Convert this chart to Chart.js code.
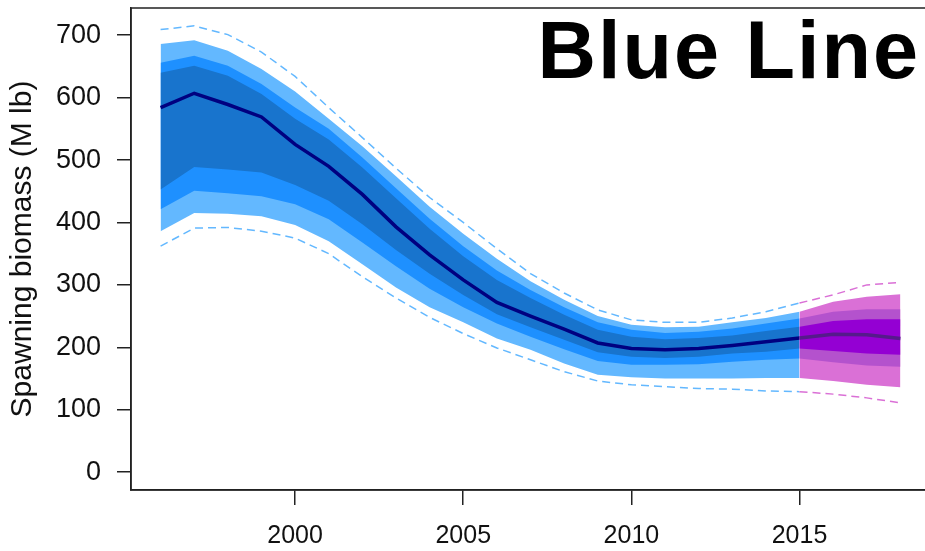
<!DOCTYPE html>
<html>
<head>
<meta charset="utf-8">
<script src="https://cdn.jsdelivr.net/npm/chart.js@4.4.1/dist/chart.umd.min.js"></script>
<style>
  html, body { margin: 0; padding: 0; background: #fff; overflow: hidden; }
  #wrap { width: 925px; height: 551px; overflow: hidden; }
</style>
</head>
<body>
<div id="wrap"><canvas id="chart" width="935" height="551"></canvas></div>
<script>
// model years and projection years
const years = [1996, 1997, 1998, 1999, 2000, 2001, 2002, 2003, 2004, 2005,
               2006, 2007, 2008, 2009, 2010, 2011, 2012, 2013, 2014, 2015]
const projYears = [2015, 2016, 2017, 2018]

// spawning biomass (M lb), median and credible bands
const median     = [584, 607, 589, 569, 525, 490, 445, 393, 348, 308, 272, 250, 229, 207, 198, 196, 198, 203, 209, 215]
const darkUpper  = [640, 651, 635, 606, 566, 533, 488, 439, 390, 346, 308, 279, 252, 228, 217, 213, 215, 219, 226, 233]
const midUpper   = [656, 667, 651, 622, 584, 550, 504, 455, 406, 362, 323, 292, 264, 240, 228, 223, 225, 230, 238, 246]
const lightUpper = [686, 692, 675, 646, 610, 566, 522, 474, 425, 382, 342, 306, 276, 250, 236, 232, 233, 240, 247, 257]
const dashUpper  = [709, 715, 701, 673, 634, 584, 536, 487, 440, 400, 358, 318, 287, 260, 244, 240, 240, 247, 257, 271]
const darkLower  = [453, 489, 485, 480, 460, 435, 397, 356, 318, 284, 253, 232, 212, 192, 185, 183, 185, 190, 193, 198]
const midLower   = [421, 451, 447, 442, 429, 405, 368, 330, 294, 264, 238, 217, 197, 178, 172, 172, 173, 177, 180, 182]
const lightLower = [386, 415, 414, 410, 396, 370, 333, 296, 264, 240, 214, 196, 174, 156, 152, 150, 150, 150, 151, 151]
const dashLower  = [362, 391, 392, 386, 375, 350, 313, 279, 248, 222, 199, 180, 161, 146, 140, 137, 134, 133, 130, 129]

// projection
const pMedian     = [215, 221, 220, 214]
const pDarkUpper  = [233, 242, 245, 245]
const pMidUpper   = [246, 257, 261, 261]
const pLightUpper = [257, 273, 281, 285]
const pDashUpper  = [271, 284, 300, 304]
const pDarkLower  = [198, 194, 190, 188]
const pMidLower   = [182, 176, 171, 169]
const pLightLower = [151, 146, 140, 136]
const pDashLower  = [129, 125, 119, 111]

const yTicks = [0, 100, 200, 300, 400, 500, 600, 700]
const xTicks = [2000, 2005, 2010, 2015]

const pts = (xs, ys) => xs.map((x, i) => ({ x: x, y: ys[i] }))

const band = (xs, up, lo, color, order) => [
  { data: pts(xs, up), backgroundColor: color, borderWidth: 0, pointRadius: 0, fill: "+1", order: order },
  { data: pts(xs, lo), borderWidth: 0, pointRadius: 0, fill: false, order: order }
]
const line = (xs, ys, color, width, dash, order) => ({
  data: pts(xs, ys), borderColor: color, borderWidth: width, borderDash: dash,
  pointRadius: 0, fill: false, order: order
})

const datasets = [
  ...band(years, lightUpper, lightLower, "#63b8ff", 20),
  ...band(years, midUpper, midLower, "#1e90ff", 19),
  ...band(years, darkUpper, darkLower, "#1874cd", 18),
  line(years, dashUpper, "#63b8ff", 1.5, [8, 5], 17),
  line(years, dashLower, "#63b8ff", 1.5, [8, 5], 17),
  line(years, median, "#000080", 3.5, [], 16),
  ...band(projYears, pLightUpper, pLightLower, "#da70d6", 15),
  ...band(projYears, pMidUpper, pMidLower, "#b452cd", 14),
  ...band(projYears, pDarkUpper, pDarkLower, "#9400d3", 13),
  line(projYears, pDashUpper, "#da70d6", 1.5, [8, 5], 12),
  line(projYears, pDashLower, "#da70d6", 1.5, [8, 5], 12),
  line(projYears, pMedian, "#551a8b", 3.5, [], 11)
]

const font = "'Liberation Sans', Arial, sans-serif"

// plot frame and the overlaid label
const frame = {
  id: "frame",
  afterDraw(chart) {
    const { ctx, chartArea: a } = chart
    ctx.save()
    ctx.strokeStyle = "#222"
    ctx.lineWidth = 1.5
    ctx.strokeRect(a.left, a.top, a.right - a.left, a.bottom - a.top)
    ctx.fillStyle = "#000"
    ctx.font = "bold 81px " + font
    ctx.letterSpacing = "2px"
    ctx.textAlign = "right"
    ctx.textBaseline = "alphabetic"
    ctx.fillText("Blue Line", 920, 78)
    ctx.restore()
  }
}

new Chart(document.getElementById("chart"), {
  type: "line",
  data: { datasets: datasets },
  plugins: [frame],
  options: {
    responsive: false,
    animation: false,
    layout: { padding: { top: 8, right: 5, left: 0, bottom: 0 } },
    plugins: { legend: { display: false }, tooltip: { enabled: false } },
    elements: { line: { tension: 0 } },
    scales: {
      x: {
        type: "linear",
        min: 1995.12,
        max: 2018.88,
        afterBuildTicks: axis => { axis.ticks = xTicks.map(v => ({ value: v })) },
        afterFit: axis => { axis.height = 61; axis.paddingLeft = 0; axis.paddingRight = 0 },
        grid: { drawOnChartArea: false, drawTicks: true, tickLength: 15, color: "#222", lineWidth: 1.5 },
        border: { display: true, color: "#222", width: 1.5 },
        ticks: {
          color: "#111", padding: 16, maxRotation: 0,
          font: { family: font, size: 25 },
          callback: v => String(v)
        }
      },
      y: {
        min: -28.6,
        max: 743.6,
        afterBuildTicks: axis => { axis.ticks = yTicks.map(v => ({ value: v })) },
        afterFit: axis => { axis.width = 131; axis.paddingTop = 0; axis.paddingBottom = 0 },
        grid: { drawOnChartArea: false, drawTicks: true, tickLength: 14, color: "#222", lineWidth: 1.5 },
        border: { display: true, color: "#222", width: 1.5 },
        ticks: {
          color: "#111", padding: 16,
          font: { family: font, size: 27 }
        },
        title: {
          display: true,
          text: "Spawning biomass (M lb)",
          color: "#111",
          padding: { top: 5, bottom: 0 },
          font: { family: font, size: 30 }
        }
      }
    }
  }
})
</script>
</body>
</html>
